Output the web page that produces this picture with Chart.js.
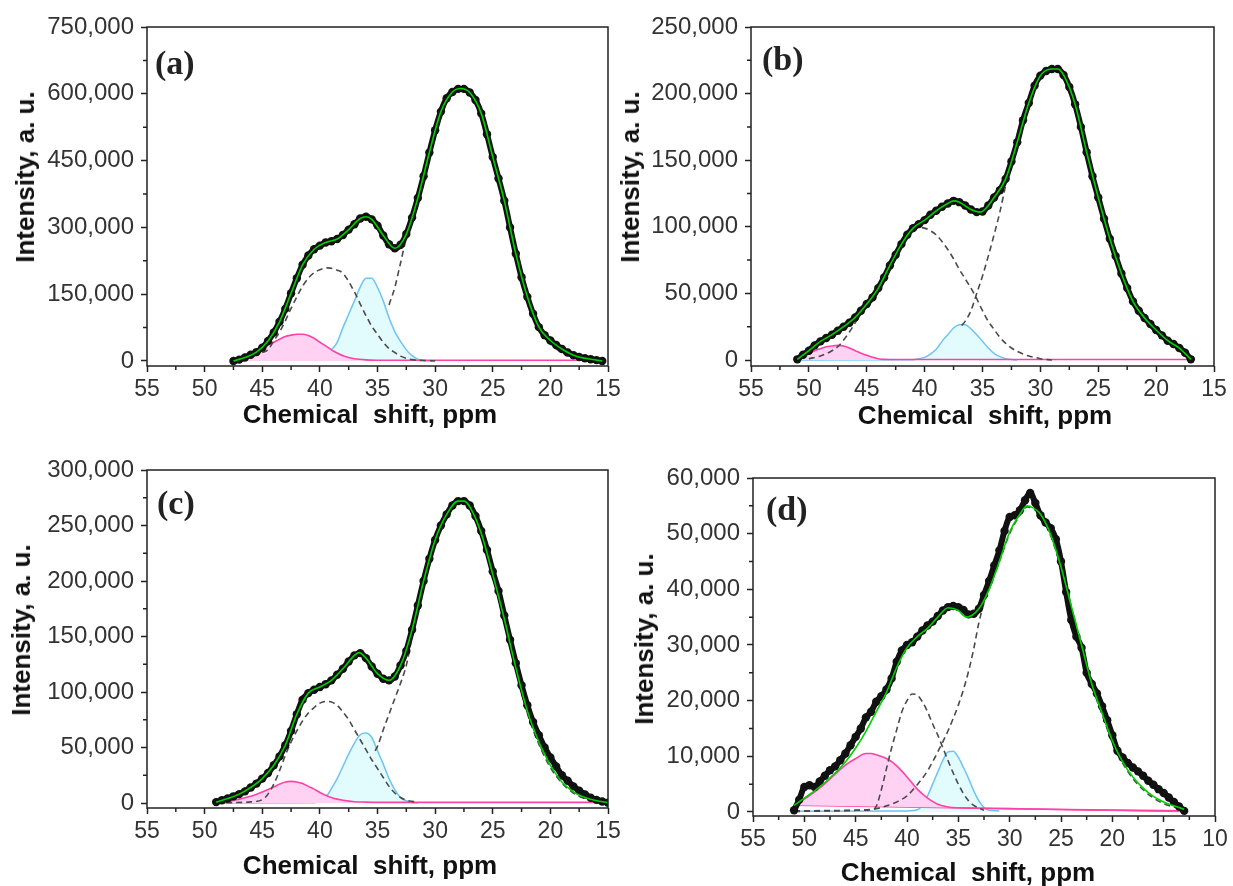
<!DOCTYPE html>
<html>
<head>
<meta charset="utf-8">
<script src="https://cdn.jsdelivr.net/npm/chart.js@4.4.1/dist/chart.umd.min.js"></script>
<style>
  body { margin: 0; background: #fff; }
  #wrap { position: relative; width: 1233px; height: 886px; overflow: hidden; }
  canvas { position: absolute; }
  .lbl { position: absolute; font: bold 34px 'Liberation Serif', 'Times New Roman', serif; line-height: 34px; color: #222; white-space: nowrap; }
  .yt, .xt { position: absolute; font: bold 26px 'Liberation Sans', Arial, sans-serif; line-height: 26px; color: #111; white-space: nowrap; }
  .yt { transform: translate(-50%, -50%) rotate(-90deg); }
  .xt { transform: translate(-50%, -50%); }
</style>
</head>
<body>
<div id="wrap">
  <canvas id="ca" width="630" height="440" style="left:0;top:0"></canvas>
  <canvas id="cb" width="617" height="440" style="left:616px;top:0"></canvas>
  <canvas id="cc" width="630" height="446" style="left:0;top:440px"></canvas>
  <canvas id="cd" width="617" height="446" style="left:616px;top:440px"></canvas>

  <div class="lbl" style="left:155px;top:46px">(a)</div>
  <div class="lbl" style="left:762px;top:42px">(b)</div>
  <div class="lbl" style="left:157px;top:486px">(c)</div>
  <div class="lbl" style="left:766px;top:492px">(d)</div>

  <div class="yt" style="left:24.5px;top:177px">Intensity, a. u.</div>
  <div class="yt" style="left:629.5px;top:177px">Intensity, a. u.</div>
  <div class="yt" style="left:20.5px;top:630px">Intensity, a. u.</div>
  <div class="yt" style="left:643.5px;top:639px">Intensity, a. u.</div>

  <div class="xt" style="left:370px;top:414px">Chemical&nbsp; shift, ppm</div>
  <div class="xt" style="left:985px;top:415px">Chemical&nbsp; shift, ppm</div>
  <div class="xt" style="left:370px;top:865px">Chemical&nbsp; shift, ppm</div>
  <div class="xt" style="left:968px;top:872px">Chemical&nbsp; shift, ppm</div>
</div>
<script>
// all series: [ppm, intensity in thousands]

// (a)
const expA = [[47.5,0],[47,3],[46.5,8],[46,14],[45.5,20],[45,30],[44.5,45],[44,64],[43.5,88],[43,117],[42.5,152],[42,186],[41.5,216],[41,237],[40.5,251],[40,259],[39.5,266],[39,269],[38.5,274],[38,283],[37.5,295],[37,307],[36.5,320],[36,324],[35.5,318],[35,304],[34.5,282],[34,262],[33.5,253],[33,261],[32.5,285],[32,322],[31.5,366],[31,415],[30.5,468],[30,518],[29.5,560],[29,590],[28.5,604],[28,611],[27.5,611],[27,603],[26.5,586],[26,556],[25.5,509],[25,458],[24.5,410],[24,360],[23.5,300],[23,241],[22.5,188],[22,144],[21.5,106],[21,76],[20.5,58],[20,46],[19.5,36],[19,27],[18.5,19],[18,13],[17.5,9],[17,6],[16.5,4],[16,2],[15.5,0]];
const fitA = [[47.5,0],[46.5,8],[45.5,20],[44.5,45],[43.5,88],[42.5,152],[41.5,216],[40.5,251],[39.5,266],[38.5,274],[37.5,295],[36.5,320],[36,324],[35.5,318],[34.5,282],[33.5,253],[32.5,285],[31.5,366],[30.5,468],[29.5,560],[28.5,604],[27.8,612],[27,603],[26,556],[25,458],[24,360],[23,241],[22,144],[21,76],[20,46],[19,27],[18,13],[17,6],[16,2],[15.5,0]];
const dashA = [[47.5,1],[47,3],[46.5,5],[46,9],[45.5,14],[45,19],[44.5,25],[44,45],[43.5,65],[43,90],[42.5,118],[42,144],[41.5,168],[41,186],[40.5,198],[40,205],[39.3,209],[38.5,204],[38,197],[37,155],[36.5,128],[36,102],[35.5,78],[35,60],[34.5,42],[34,28],[33.5,19],[33,11],[32.5,6],[32,3],[31,1],[30,0]];
const mainA = [[34,126],[33.5,165],[33,220],[32.5,275],[32,310],[31.5,352],[31,400],[30.5,455],[30,505],[29.5,548],[29,580],[28.5,598],[28,606],[27.5,606],[27,598],[26.5,580],[26,550],[25.5,505],[25,455],[24.5,406],[24,356],[23.5,297],[23,238],[22.5,185],[22,140],[21.5,102],[21,72],[20.5,52],[20,38],[19.5,27],[19,19],[18.5,13],[18,8],[17.5,5],[17,3],[16,1],[15.5,0.5]];
const blueA = [[40.5,1],[40,3],[39.5,10],[39,25],[38.5,42],[38,75],[37.5,105],[37,135],[36.5,166],[36,186],[35.5,186],[35,165],[34.5,135],[34,97],[33.5,66],[33,44],[32.5,25],[32,12],[31.5,4],[31,1],[30.5,0]];
const pinkA = [[47.5,1],[47,4],[46.5,8],[46,14],[45.5,21],[45,29],[44.5,36],[44,42],[43.5,49],[43,55],[42.5,58],[42,60],[41.5,60],[41,57],[40.5,51],[40,42],[39.5,34],[39,25],[38.5,18],[38,12],[37.5,8],[37,5],[36,2.5],[35,1.8],[30,1.5],[15.5,1.5]];

// (b)
const expB = [[51,0.5],[50.5,4],[50,7],[49.5,11],[49,14],[48.5,16.5],[48,19],[47.5,22],[47,25],[46.5,28],[46,32],[45.5,37],[45,42],[44.5,47],[44,54],[43.5,62],[43,71],[42.5,79],[42,87],[41.5,94],[41,99],[40.5,102],[40,105],[39.5,109],[39,112],[38.5,115],[38,117.5],[37.5,119.5],[37,118.5],[36.5,116],[36,113],[35.5,111],[35,111.5],[34.5,116],[34,122],[33.5,127.5],[33,136],[32.5,149],[32,163.5],[31.5,180],[31,193],[30.5,206],[30,213.5],[29.5,217],[29,218.5],[28.5,218.5],[28,214],[27.5,205],[27,192],[26.5,175],[26,156],[25.5,138],[25,122],[24.5,106],[24,91],[23.5,78],[23,65],[22.5,54],[22,44],[21.5,37],[21,31.5],[20.5,27],[20,22.5],[19.5,18.5],[19,14.5],[18.5,12],[18,9],[17.5,5.5],[17,0.5]];
const fitB = [[51,0.5],[50,7],[49,14],[48,19],[47,25],[46,32],[45,42],[44,54],[43,71],[42,87],[41,99],[40,105],[39,112],[38,117.5],[37.5,119.5],[37,118.5],[36,113],[35.2,111],[34,122],[33,136],[32,163.5],[31,193],[30,213.5],[29,218.5],[28.5,218.5],[28,214],[27,192],[26,156],[25,122],[24,91],[23,65],[22,44],[21,31.5],[20,22.5],[19,14.5],[18,9],[17,0.5]];
const dashB = [[50,1],[49,3],[48,7],[47.5,10],[47,15],[46.5,21],[46,28],[45.5,35],[45,42],[44,56],[43,71],[42,86],[41.5,92],[41,97],[40.5,99.5],[40,99],[39.5,97],[39,94],[38.5,89],[38,83],[37.5,76],[37,68],[36.5,61],[36,54],[35.5,46],[35,37],[34.5,29],[34,23],[33.5,17],[33,12.5],[32.5,9],[32,6.5],[31.5,4.5],[31,3],[30.5,2],[30,1],[29,0]];
const mainB = [[36.8,26],[36.5,29],[36,37],[35.5,50],[35,63],[34.5,78],[34,94],[33.5,111],[33,131],[32.5,149],[32,163],[31.5,178],[31,191],[30.5,203],[30,211],[29.5,215],[29,217],[28.5,217],[28,213],[27,191],[26,155],[25,121],[24,90],[23,64],[22,43],[21,30],[20,21],[19,13.5],[18,8],[17,3]];
const blueB = [[51,0],[41,0.2],[40.5,1],[40,2],[39.5,4.5],[39,8],[38.5,14],[38,19],[37.5,24],[37,26.5],[36.5,26.5],[36,23.5],[35.5,19],[35,14],[34.5,9],[34,5],[33.5,2.5],[33,1],[32.5,0.3],[32,0]];
const pinkB = [[51,1.5],[50.5,3],[50,5],[49.5,7],[49,8.5],[48.5,10],[48,10.5],[47.5,11],[47,10.5],[46.5,9],[46,7],[45.5,5],[45,3.5],[44.5,2],[44,1],[43.5,0.5],[43,0.4],[17,0.4]];

// (c)
const expC = [[49,0.8],[48.5,2.5],[48,4],[47.5,6],[47,8],[46.5,10.5],[46,14],[45.5,17.5],[45,22],[44.5,27],[44,34],[43.5,42],[43,52],[42.5,65],[42,80],[41.5,93],[41,99],[40.5,102],[40,104.5],[39.5,107],[39,110.5],[38.5,115.5],[38,121],[37.5,127.5],[37,133],[36.5,135],[36,130.5],[35.5,123],[35,116.5],[34.5,112],[34,110.5],[33.5,114],[33,124],[32.5,137],[32,156],[31.5,178],[31,200],[30.5,220],[30,237],[29.5,250],[29,260],[28.5,268],[28,272],[27.5,272],[27,268],[26.5,258.5],[26,245],[25.5,228],[25,208.5],[24.5,191],[24,169],[23.5,147],[23,126],[22.5,106],[22,88],[21.5,73],[21,61],[20.5,50],[20,41],[19.5,33],[19,25],[18.5,20],[18,15],[17.5,11],[17,7.7],[16.5,4.8],[16,2.8],[15.5,1.3],[15,0.3]];
const fitC = [[49,0.8],[48,4],[47,8],[46,14],[45,22],[44,34],[43,52],[42,80],[41,99],[40,104.5],[39,110.5],[38,121],[37,133],[36.6,135.5],[36,130.5],[35,116.5],[34,110.5],[33,124],[32,156],[31,200],[30,237],[29,260],[28,272],[27.5,272],[27,267],[26,243],[25,206],[24,166],[23,122],[22,83],[21,55],[20.5,44],[20,34],[19.5,26],[19,19],[18.5,14],[18,10],[17.5,7],[17,5],[16,2],[15,0.5]];
const dashC = [[49,0.2],[46,1],[45,3],[44.5,8],[44,17],[43.5,29],[43,43],[42.5,55],[42,65],[41.5,74],[41,81],[40.5,86],[40,90],[39.5,91.5],[39,91],[38.5,88],[38,82],[37.5,75],[37,66],[36.5,57],[36,48],[35.5,39],[35,31],[34.5,23],[34,15],[33.5,9],[33,5],[32.5,2.5],[32,1.5],[31.5,1]];
const mainC = [[35.2,47],[35,51],[34.5,66],[34,80],[33.5,94],[33,108],[32.5,124],[32,150],[31.5,174],[31,197],[30.5,217],[30,234],[29.5,248],[29,258],[28.5,266],[28,270],[27.5,270],[27,265],[26,241],[25,204],[24,163],[23,120],[22,81],[21,53],[20,32],[19,18],[18,9],[17,4],[16,1.5],[15,0.5]];
const blueC = [[49,0],[40.5,0.3],[40,1.5],[39.5,5],[39,13],[38.5,22],[38,33],[37.5,44],[37,54],[36.5,61.5],[36,63],[35.5,59],[35,47],[34.5,35],[34,22],[33.5,12],[33,5],[32.5,2],[32,0.5],[31.5,0]];
const pinkC = [[49,0.5],[48,1.5],[47,3.5],[46,6],[45,10],[44,14.5],[43.5,17],[43,19],[42.5,19.5],[42,19],[41.5,17.5],[41,15],[40.5,12.5],[40,9.5],[39.5,7],[39,5],[38.5,3.5],[38,2.5],[37,1.2],[36,0.8],[35,0.6],[15,0.6]];

// (d)
const expD = [[51,0.3],[50.5,2.2],[50,4.5],[49.5,4.8],[49,4.5],[48.5,5.5],[48,6.5],[47.5,7.5],[47,8.2],[46.5,9.3],[46,10.5],[45.5,12],[45,13.5],[44.5,15],[44,17],[43.5,18],[43,19.8],[42.5,20.8],[42,22],[41.5,24],[41,27],[40.5,29],[40,30],[39.5,30.5],[39,31.5],[38.5,32.6],[38,33.5],[37.5,34.2],[37,35.2],[36.5,36.2],[36,36.8],[35.5,37],[35,36.8],[34.5,36.3],[34,35.5],[33.5,35.6],[33,36.5],[32.5,39],[32,41.5],[31.5,44.3],[31,47],[30.5,50.5],[30,53],[29.5,53.3],[29,54.2],[28.5,56],[28,57.3],[27.5,55.5],[27,53.3],[26.5,52],[26,51],[25.5,49],[25,45],[24.5,39.5],[24,34.5],[23.5,31.5],[23,29.5],[22.5,25],[22,23],[21.5,21.3],[21,19],[20.5,16.5],[20,13.8],[19.5,11],[19,9.8],[18.5,8.8],[18,8],[17.5,7.3],[17,6.5],[16.5,5.6],[16,4.9],[15.5,4.1],[15,3.4],[14.5,2.6],[14,1.8],[13.5,1],[13,0.2]];
const fitD = [[51,1.2],[50,2.5],[49,3.8],[48,5.3],[47,7],[46,9],[45,11.5],[44,14.5],[43,18],[42,21.5],[41,26],[40,29.5],[39,31.5],[38,33],[37,35],[36,36.7],[35,36.2],[34.2,35],[33,36.5],[32,40],[31,45],[30,50.3],[29,53.5],[28.3,55],[28,54.9],[27,53.5],[26,49.8],[25,44],[24,37],[23,30],[22,23],[21,17.8],[20,12.8],[19,9],[18,6.3],[17,4.3],[16,2.8],[15,1.8],[14,1.1],[13,0.5]];
const dashD = [[51,0.2],[45,0.3],[43.5,0.4],[43,1],[42.5,4],[42,7.8],[41.5,11.5],[41,14.8],[40.5,18],[40,20],[39.5,21.2],[39,21],[38.5,19.8],[38,18],[37.5,15.8],[37,13.8],[36.5,11.5],[36,9.2],[35.5,7],[35,5],[34.5,3.3],[34,2],[33.5,1.2],[33,0.7],[32.5,0.3]];
const mainD = [[51,0.1],[47,0.2],[45,0.3],[43,0.6],[42,1.1],[41,1.8],[40,2.9],[39,4.9],[38,7.4],[37,10.8],[36,14.6],[35.5,16.8],[35,19.2],[34.5,22],[34,25.3],[33.5,29.3],[33,34],[32.5,37.5],[32,40],[31,45],[30,50],[29,53.3],[28.3,54.8],[28,54.7],[27,53.3],[26,49.6],[25,43.8],[24,36.8],[23,29.8],[22,22.8],[21,17.5],[20,12.5],[19,8.8],[18,6],[17,4],[16,2.5],[15,1.5],[14,0.9],[13,0.4]];
const blueD = [[51,0.15],[40,0.2],[39,0.4],[38.5,1.2],[38,2.9],[37.5,5],[37,7.2],[36.5,9.3],[36,10.8],[35.5,10.9],[35,9.8],[34.5,8],[34,6],[33.5,3.8],[33,2],[32.5,0.8],[32,0.3],[31,0.2]];
const pinkD = [[51,1.3],[50,2.3],[49,3.6],[48,5.1],[47,6.8],[46,8.4],[45,9.6],[44,10.5],[43.5,10.5],[43,10.3],[42,9.6],[41,8.3],[40,6.3],[39,4.1],[38,2.5],[37,1.4],[36,0.9],[35,0.75],[30,0.6],[25,0.45],[20,0.35],[13,0.2]];
const pinkBaseD = [[51,1.2],[13,0.1]];

const FONT = "'Liberation Sans', Arial, sans-serif";
const pts = arr => arr.map(([x, y]) => ({ x: x, y: y * 1000 }));
const isMajor = (v, step) => Math.abs(v / step - Math.round(v / step)) < 1e-6;

// box around plot + short minor ticks
const frame = {
  id: 'frame',
  afterDraw(chart) {
    const { ctx, chartArea: a, scales } = chart;
    const o = chart.options.plugins.frame;
    ctx.save();
    ctx.strokeStyle = '#222';
    ctx.lineWidth = 1.5;
    ctx.strokeRect(a.left, a.top, a.right - a.left, a.bottom - a.top);
    ctx.beginPath();
    scales.x.ticks.forEach(t => {
      if (isMajor(t.value, o.xMajor)) return;
      const px = scales.x.getPixelForValue(t.value);
      ctx.moveTo(px, a.bottom);
      ctx.lineTo(px, a.bottom + 4);
    });
    scales.y.ticks.forEach(t => {
      if (isMajor(t.value, o.yMajor)) return;
      const py = scales.y.getPixelForValue(t.value);
      ctx.moveTo(a.left - 4, py);
      ctx.lineTo(a.left, py);
    });
    ctx.stroke();
    ctx.restore();
  }
};

function panel(id, s, p) {
  const datasets = [
    { data: pts(s.fit), borderColor: '#00d000', borderWidth: 1.6, pointRadius: 0, order: 0 },
    { data: pts(s.exp), borderColor: '#111', borderWidth: 6, pointRadius: 4.2, pointBackgroundColor: '#111', pointBorderWidth: 0, order: 1 },
    { data: pts(s.dash), borderColor: '#4a4a4a', borderWidth: 1.6, borderDash: [6, 4], pointRadius: 0, order: 2 },
    { data: pts(s.main), borderColor: '#4a4a4a', borderWidth: 1.6, borderDash: [6, 4], pointRadius: 0, order: 2 },
    { data: pts(s.pink), borderColor: '#ff40a4', backgroundColor: '#ffd2f3', fill: s.pinkBase ? '+1' : 'origin', borderWidth: 1.6, pointRadius: 0, order: 3 }
  ];
  if (s.pinkBase) {
    datasets.push({ data: pts(s.pinkBase), borderColor: '#ff40a4', borderWidth: 1.6, pointRadius: 0, order: 4 });
  }
  datasets.push({ data: pts(s.blue), borderColor: '#6cc4f4', backgroundColor: '#e2fbfd', fill: 'origin', borderWidth: 1.5, pointRadius: 0, order: 5 });
  datasets.forEach(d => { d.cubicInterpolationMode = 'monotone'; if (d.fill === undefined) d.fill = false; });

  new Chart(document.getElementById(id), {
    type: 'line',
    data: { datasets: datasets },
    options: {
      responsive: false,
      animation: false,
      events: [],
      layout: { padding: p.pad },
      plugins: { legend: { display: false }, tooltip: { enabled: false }, frame: { xMajor: 5, yMajor: p.yMajor } },
      scales: {
        x: {
          type: 'linear', reverse: true, min: p.xMin, max: 55,
          border: { display: false },
          grid: { drawOnChartArea: false, tickLength: 6, tickWidth: 1.5,
                  tickColor: c => isMajor(c.tick.value, 5) ? '#222' : 'rgba(0,0,0,0)' },
          ticks: { stepSize: 2.5, autoSkip: false, maxRotation: 0, padding: 4, color: '#333',
                   font: { family: FONT, size: 23 },
                   callback: v => isMajor(v, 5) ? String(v) : '' },
          afterFit: sc => { sc.height = p.xH; }
        },
        y: {
          type: 'linear', min: p.yMin, max: p.yMax,
          border: { display: false },
          grid: { drawOnChartArea: false, tickLength: 6, tickWidth: 1.5,
                  tickColor: c => isMajor(c.tick.value, p.yMajor) ? '#222' : 'rgba(0,0,0,0)' },
          ticks: { autoSkip: false, padding: 7, color: '#333',
                   font: { family: FONT, size: 24 },
                   callback: v => isMajor(v, p.yMajor) ? v.toLocaleString('en-US') : '' },
          // major ticks with one minor tick between, starting at 0
          afterBuildTicks: sc => {
            const t = [];
            for (let k = 0; k * p.yMajor / 2 <= p.yMax + 1; k++) t.push({ value: k * p.yMajor / 2 });
            sc.ticks = t;
          },
          afterFit: sc => { sc.width = p.yW; }
        }
      }
    },
    plugins: [frame]
  });
}

panel('ca', { exp: expA, fit: fitA, dash: dashA, main: mainA, blue: blueA, pink: pinkA },
  { xMin: 15, yMin: -11250, yMax: 750000, yMajor: 150000, yW: 147, xH: 74, pad: { left: 0, top: 27, right: 22, bottom: 0 } });
panel('cb', { exp: expB, fit: fitB, dash: dashB, main: mainB, blue: blueB, pink: pinkB },
  { xMin: 15, yMin: -4500, yMax: 250000, yMajor: 50000, yW: 135, xH: 74, pad: { left: 0, top: 27, right: 19, bottom: 0 } });
panel('cc', { exp: expC, fit: fitC, dash: dashC, main: mainC, blue: blueC, pink: pinkC },
  { xMin: 15, yMin: -4500, yMax: 300000, yMajor: 50000, yW: 147, xH: 78, pad: { left: 0, top: 30, right: 22, bottom: 0 } });
panel('cd', { exp: expD, fit: fitD, dash: dashD, main: mainD, blue: blueD, pink: pinkD, pinkBase: pinkBaseD },
  { xMin: 10, yMin: -720, yMax: 60000, yMajor: 10000, yW: 137, xH: 70, pad: { left: 0, top: 38, right: 18, bottom: 0 } });
</script>
</body>
</html>
